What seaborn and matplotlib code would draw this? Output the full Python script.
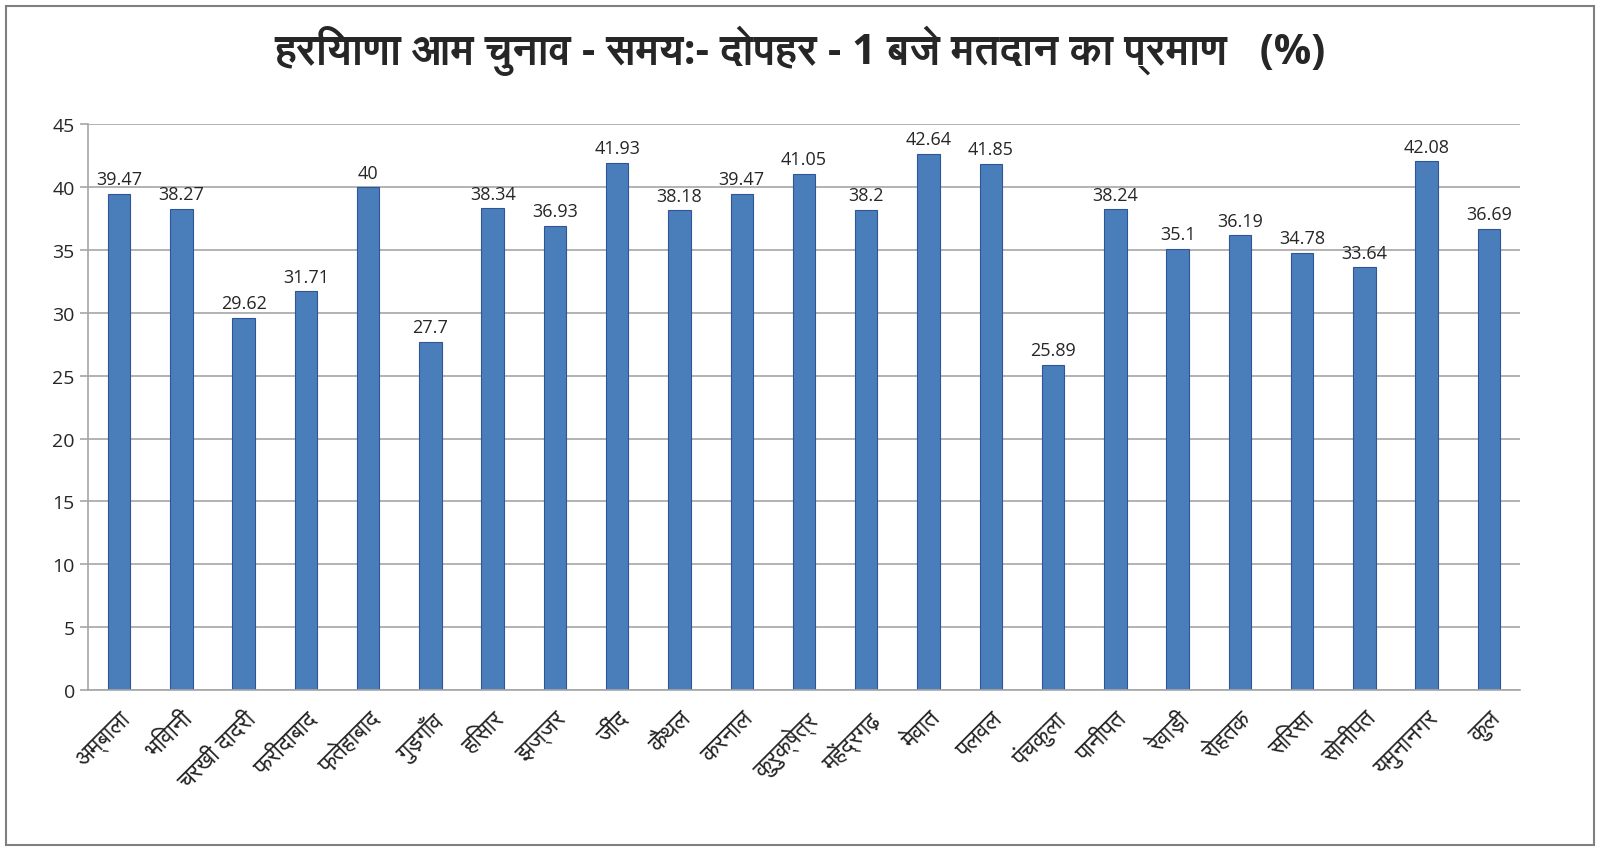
import matplotlib
matplotlib.use('Agg')
import pandas as pd
import matplotlib.pyplot as plt
import seaborn as sns
from matplotlib import font_manager
from matplotlib.ft2font import FT2Font
from matplotlib.patches import Rectangle

# 데이터: 지역별 투표율 (%)
districts = ['अम्बाला', 'भिवानी', 'चरखी दादरी', 'फरीदाबाद', 'फ़तेहाबाद', 'गुड़गाँव',
             'हिसार', 'झज्जर', 'जींद', 'कैथल', 'करनाल', 'कुरुक्षेत्र', 'महेंद्रगढ़',
             'मेवात', 'पलवल', 'पंचकुला', 'पानीपत', 'रेवाड़ी', 'रोहतक', 'सिरसा',
             'सोनीपत', 'यमुनानगर', 'कुल']
turnout = [39.47, 38.27, 29.62, 31.71, 40, 27.7, 38.34, 36.93, 41.93, 38.18,
           39.47, 41.05, 38.2, 42.64, 41.85, 25.89, 38.24, 35.1, 36.19, 34.78,
           33.64, 42.08, 36.69]
title = 'हरियाणा आम चुनाव - समय:- दोपहर - 1 बजे मतदान का प्रमाण   (%)'

sns.set_theme(style='white')

# Devanagari 글리프가 있는 폰트 찾기 (sans 우선, mono 뒤로)
deva = []
for f in font_manager.fontManager.ttflist:
    try:
        if 0x0939 in FT2Font(f.fname).get_charmap() and f.name not in deva:
            deva.append(f.name)
    except Exception:
        pass
deva.sort(key=lambda n: ('Mono' in n, 'Serif' in n, 'Sans' not in n))
plt.rcParams['font.family'] = ['Open Sans'] + deva + ['DejaVu Sans']

df = pd.DataFrame({'district': districts, 'turnout': turnout})

fig = plt.figure(figsize=(16, 8.53), dpi=100)
ax = fig.add_axes([0.055, 0.19, 0.895, 0.663])

sns.barplot(data=df, x='district', y='turnout', color='#4A7EBB', width=0.36,
            edgecolor='#2F5597', linewidth=0.8, saturation=1, ax=ax)

ax.set_ylim(0, 45)
ax.set_yticks(range(0, 46, 5))
ax.set_xlim(-0.5, len(districts) - 0.5)
ax.yaxis.grid(True, color='#A6A6A6', linewidth=1.2)
ax.set_axisbelow(True)
for s in ['top', 'right']:
    ax.spines[s].set_visible(False)
for s in ['left', 'bottom']:
    ax.spines[s].set_color('#A6A6A6')
    ax.spines[s].set_linewidth(1.2)

ax.set_xticks([i + 0.5 for i in range(-1, len(districts))], minor=True)
ax.tick_params(axis='x', which='major', length=0, pad=12)
ax.tick_params(axis='x', which='minor', length=6, color='#A6A6A6', width=1.2)
ax.tick_params(axis='y', length=6, color='#A6A6A6', width=1.2, labelsize=14, left=True)
plt.setp(ax.get_xticklabels(), rotation=45, ha='right', rotation_mode='anchor', fontsize=17)

ax.bar_label(ax.containers[0], labels=[f'{v:g}' for v in turnout], padding=4, fontsize=13)
ax.set_xlabel('')
ax.set_ylabel('')

fig.text(0.5, 0.94, title, ha='center', va='center', fontsize=30, fontweight='bold')
fig.patches.append(Rectangle((0.004, 0.008), 0.992, 0.984, transform=fig.transFigure,
                             fill=False, edgecolor='#7F7F7F', linewidth=1.5))

fig.savefig('out.png', dpi=100)
